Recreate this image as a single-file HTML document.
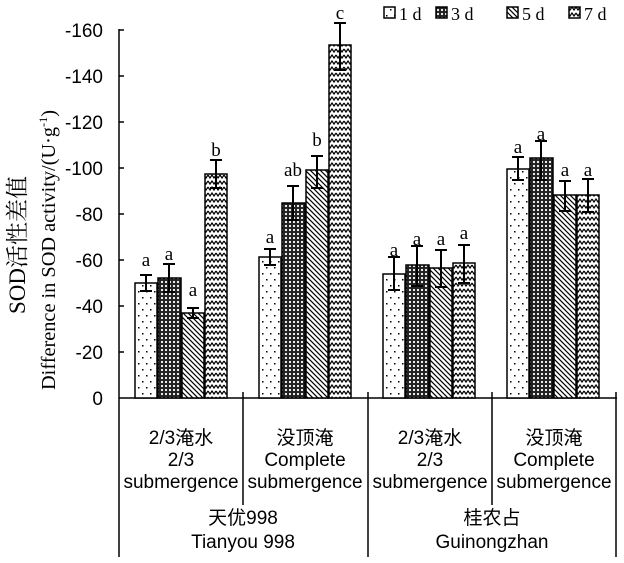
<!DOCTYPE html>
<html><head><meta charset="utf-8"><style>
body{margin:0;background:#fff}
svg{display:block}
text{font-family:"Liberation Sans","Noto Sans CJK SC",sans-serif;fill:#000}
.s{font-family:"Liberation Serif","Noto Serif CJK SC",serif}
</style></head><body>
<svg width="624" height="563" viewBox="0 0 624 563" xmlns="http://www.w3.org/2000/svg">
<defs>
<pattern id="p1" width="8" height="12" patternUnits="userSpaceOnUse"><rect width="8" height="12" fill="#fff"/><rect x="2" y="3" width="1.5" height="1.5" fill="#000"/><rect x="6" y="9" width="1.5" height="1.5" fill="#000"/></pattern>
<pattern id="p2" width="4" height="4" patternUnits="userSpaceOnUse"><rect width="4" height="4" fill="#222"/><circle cx="2" cy="2" r="1.1" fill="#fff"/></pattern>
<pattern id="p3" width="5" height="5" patternUnits="userSpaceOnUse"><rect width="5" height="5" fill="#fff"/><path d="M-1,-1 L6,6 M-1,4 L1,6 M4,-1 L6,1" stroke="#000" stroke-width="1.2"/></pattern>
<pattern id="p4" width="8" height="6" patternUnits="userSpaceOnUse"><rect width="8" height="6" fill="#fff"/><path d="M0,1 L2,4 L4,1 L6,4 L8,1" stroke="#000" stroke-width="1.2" fill="none"/></pattern>
</defs>
<g font-size="19" text-anchor="end">
<text x="103" y="37">-160</text><text x="103" y="83">-140</text><text x="103" y="129">-120</text><text x="103" y="175">-100</text><text x="103" y="221">-80</text><text x="103" y="267">-60</text><text x="103" y="313">-40</text><text x="103" y="359">-20</text><text x="103" y="405">0</text>
</g>
<g stroke="#000" stroke-width="1.5">
<line x1="119" y1="29" x2="119" y2="557"/>
<line x1="119" y1="398" x2="617" y2="398"/>
<line x1="119" y1="30" x2="124" y2="30"/><line x1="119" y1="76" x2="124" y2="76"/><line x1="119" y1="122" x2="124" y2="122"/><line x1="119" y1="168" x2="124" y2="168"/><line x1="119" y1="214" x2="124" y2="214"/><line x1="119" y1="260" x2="124" y2="260"/><line x1="119" y1="306" x2="124" y2="306"/><line x1="119" y1="352" x2="124" y2="352"/>
<line x1="243" y1="392" x2="243" y2="505"/><line x1="368" y1="392" x2="368" y2="557"/><line x1="492" y1="392" x2="492" y2="505"/><line x1="616" y1="392" x2="616" y2="557"/>
</g>
<text class="s" font-size="23" text-anchor="middle" transform="translate(25,245) rotate(-90)">SOD活性差值</text>
<text class="s" font-size="20" transform="translate(55,390) rotate(-90)" textLength="280" lengthAdjust="spacingAndGlyphs">Difference in SOD activity/(U·g<tspan font-size="12" dy="-8">-1</tspan><tspan dy="8">)</tspan></text>
<g font-size="19" text-anchor="middle">
<text x="181" y="444">2/3淹水</text><text x="181" y="466">2/3</text><text x="181" y="488">submergence</text>
<text x="305" y="444">没顶淹</text><text x="305" y="466">Complete</text><text x="305" y="488">submergence</text>
<text x="430" y="444">2/3淹水</text><text x="430" y="466">2/3</text><text x="430" y="488">submergence</text>
<text x="554" y="444">没顶淹</text><text x="554" y="466">Complete</text><text x="554" y="488">submergence</text>
<text x="243" y="524">天优998</text><text x="243" y="548">Tianyou 998</text>
<text x="492" y="524">桂农占</text><text x="492" y="548">Guinongzhan</text>
</g>
<g>
<rect x="384" y="7" width="11" height="11" fill="url(#p1)" stroke="#000" stroke-width="1.5"/><text class="s" font-size="18" x="399" y="20">1 d</text>
<rect x="436" y="7" width="11" height="11" fill="url(#p2)" stroke="#000" stroke-width="1.5"/><text class="s" font-size="18" x="451" y="20">3 d</text>
<rect x="507" y="7" width="11" height="11" fill="url(#p3)" stroke="#000" stroke-width="1.5"/><text class="s" font-size="18" x="522" y="20">5 d</text>
<rect x="569" y="7" width="11" height="11" fill="url(#p4)" stroke="#000" stroke-width="1.5"/><text class="s" font-size="18" x="584" y="20">7 d</text>
</g>
<g stroke="#000" stroke-width="1.5">
<rect x="135" y="283" width="22" height="115" fill="url(#p1)"/>
<rect x="158" y="278" width="23" height="120" fill="url(#p2)"/>
<rect x="182" y="313" width="22" height="85" fill="url(#p3)"/>
<rect x="205" y="174" width="22" height="224" fill="url(#p4)"/>
<rect x="259" y="257" width="22" height="141" fill="url(#p1)"/>
<rect x="282" y="203" width="23" height="195" fill="url(#p2)"/>
<rect x="306" y="170" width="22" height="228" fill="url(#p3)"/>
<rect x="329" y="45" width="22" height="353" fill="url(#p4)"/>
<rect x="383" y="274" width="22" height="124" fill="url(#p1)"/>
<rect x="406" y="265" width="23" height="133" fill="url(#p2)"/>
<rect x="430" y="268" width="22" height="130" fill="url(#p3)"/>
<rect x="453" y="263" width="22" height="135" fill="url(#p4)"/>
<rect x="507" y="169" width="22" height="229" fill="url(#p1)"/>
<rect x="530" y="158" width="23" height="240" fill="url(#p2)"/>
<rect x="554" y="195" width="22" height="203" fill="url(#p3)"/>
<rect x="577" y="195" width="22" height="203" fill="url(#p4)"/>
</g>
<g stroke="#000" stroke-width="2" fill="none">
<path d="M146,275v16M140,275h12M140,291h12"/>
<path d="M169,264v28M163,264h12M163,292h12"/>
<path d="M193,308v10M187,308h12M187,318h12"/>
<path d="M216,160v28M210,160h12M210,188h12"/>
<path d="M270,249v16M264,249h12M264,265h12"/>
<path d="M293,186v34M287,186h12M287,220h12"/>
<path d="M317,156v32M311,156h12M311,188h12"/>
<path d="M340,23v47M334,23h12M334,70h12"/>
<path d="M394,257v33M388,257h12M388,290h12"/>
<path d="M417,246v40M411,246h12M411,286h12"/>
<path d="M441,250v37M435,250h12M435,287h12"/>
<path d="M464,245v38M458,245h12M458,283h12"/>
<path d="M518,157v23M512,157h12M512,180h12"/>
<path d="M541,141v39M535,141h12M535,180h12"/>
<path d="M565,181v30M559,181h12M559,211h12"/>
<path d="M588,179v33M582,179h12M582,212h12"/>
</g>
<g font-size="19" text-anchor="middle">
<text class="s" x="146" y="266">a</text><text class="s" x="169" y="260">a</text><text class="s" x="193" y="296">a</text><text class="s" x="216" y="156">b</text>
<text class="s" x="270" y="243">a</text><text class="s" x="293" y="176">ab</text><text class="s" x="317" y="146">b</text><text class="s" x="340" y="19">c</text>
<text class="s" x="394" y="256">a</text><text class="s" x="417" y="245">a</text><text class="s" x="441" y="245">a</text><text class="s" x="464" y="239">a</text>
<text class="s" x="518" y="153">a</text><text class="s" x="541" y="140">a</text><text class="s" x="565" y="176">a</text><text class="s" x="588" y="176">a</text>
</g>
</svg>
</body></html>
